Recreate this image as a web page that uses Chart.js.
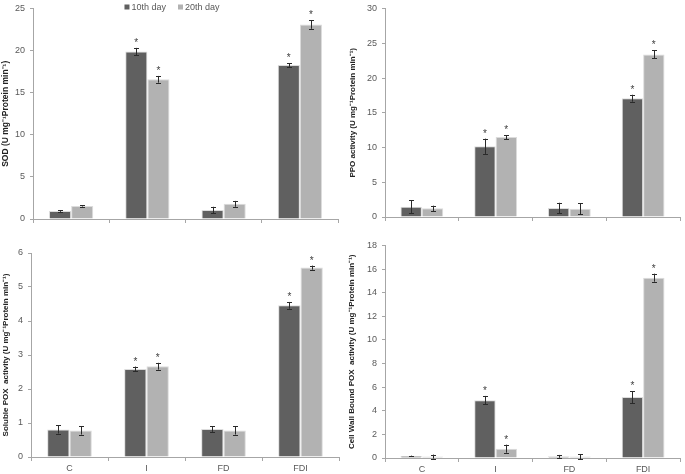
<!DOCTYPE html>
<html><head><meta charset="utf-8">
<script src="https://cdn.jsdelivr.net/npm/chart.js@4.4.0/dist/chart.umd.min.js"></script>
<style>
html,body{margin:0;padding:0;background:#fff;}
#wrap{position:relative;width:685px;height:474px;overflow:hidden;background:#fff;}
canvas{position:absolute;}
</style></head><body>
<div id="wrap">
<canvas id="c1" width="340" height="237" style="left:0;top:0"></canvas>
<canvas id="c2" width="345" height="237" style="left:340px;top:0"></canvas>
<canvas id="c3" width="340" height="237" style="left:0;top:237px"></canvas>
<canvas id="c4" width="345" height="237" style="left:340px;top:237px"></canvas>
</div>
<script>
// ---- data ----
const categories = ['C', 'I', 'FD', 'FDI'];
const seriesLabels = ['10th day', '20th day'];
const significant = [false, true, false, true];

const sod10 = [0.95, 19.9, 1.07, 18.3];
const sod20 = [1.55, 16.6, 1.8, 23.1];
const sod10Err = [0.1, 0.43, 0.38, 0.23];
const sod20Err = [0.07, 0.4, 0.35, 0.5];

const ppo10 = [1.48, 10.18, 1.29, 17.1];
const ppo20 = [1.25, 11.5, 1.2, 23.4];
const ppo10Err = [0.9, 1.1, 0.76, 0.5];
const ppo20Err = [0.38, 0.3, 0.8, 0.57];

const spox10 = [0.81, 2.59, 0.82, 4.46];
const spox20 = [0.78, 2.67, 0.78, 5.57];
const spox10Err = [0.12, 0.07, 0.08, 0.1];
const spox20Err = [0.12, 0.1, 0.12, 0.06];

const cpox10 = [0.17, 4.9, 0.14, 5.16];
const cpox20 = [0.12, 0.79, 0.12, 15.28];
const cpox10Err = [0.03, 0.36, 0.12, 0.5];
const cpox20Err = [0.17, 0.34, 0.22, 0.34];

const titles = [
  'SOD (U mg\u207B\u00B9Protein min\u207B\u00B9)',
  'PPO activity (U mg\u207B\u00B9Protein min\u207B\u00B9)',
  'Soluble POX  activity (U mg\u207B\u00B9Protein min\u207B\u00B9)',
  'Cell Wall Bound POX  activity (U mg\u207B\u00B9Protein min\u207B\u00B9)'
];
const yMaxes = [25, 30, 6, 18];
const ySteps = [5, 5, 1, 2];

// ---- style ----
const DARK = '#606060', LIGHT = '#b2b2b2';
const AXIS = '#a6a6a6', TXT = '#595959';
const FONT = "'Liberation Sans', Arial, sans-serif";

const errPlugin = {
  id: 'errbars',
  afterDatasetsDraw(chart, args, opts) {
    const ctx = chart.ctx;
    const ys = chart.scales.y;
    ctx.save();
    chart.data.datasets.forEach((ds, di) => {
      const meta = chart.getDatasetMeta(di);
      meta.data.forEach((bar, i) => {
        const v = ds.data[i], e = opts.errors[di][i];
        const yt = ys.getPixelForValue(v + e), yb = ys.getPixelForValue(v - e);
        const x = Math.round(bar.x) + 0.5;
        ctx.strokeStyle = '#2a2a2a';
        ctx.lineWidth = 1;
        ctx.beginPath();
        ctx.moveTo(x, yt); ctx.lineTo(x, yb);
        ctx.moveTo(x - 2.5, Math.round(yt) + 0.5); ctx.lineTo(x + 2.5, Math.round(yt) + 0.5);
        ctx.moveTo(x - 2.5, Math.round(yb) + 0.5); ctx.lineTo(x + 2.5, Math.round(yb) + 0.5);
        ctx.stroke();
        if (opts.sig[i]) {
          ctx.fillStyle = '#404040';
          ctx.font = '10px ' + FONT;
          ctx.textAlign = 'center';
          ctx.textBaseline = 'alphabetic';
          ctx.fillText('*', bar.x, yt - 2);
        }
      });
    });
    ctx.restore();
  }
};

const legendPlugin = {
  id: 'miniLegend',
  afterDraw(chart, args, opts) {
    if (!opts.show) return;
    const ctx = chart.ctx;
    ctx.save();
    ctx.font = '9px ' + FONT;
    ctx.textBaseline = 'middle';
    ctx.textAlign = 'left';
    const box = 5, gap = 2, itemGap = 12;
    const items = chart.data.datasets.map(d => ({ t: d.label, c: d.backgroundColor, w: box + gap + ctx.measureText(d.label).width }));
    const total = items.reduce((s, it) => s + it.w, 0) + itemGap * (items.length - 1);
    let x = opts.cx - total / 2;
    const y = opts.cy;
    items.forEach(it => {
      ctx.fillStyle = it.c;
      ctx.fillRect(x, y - box / 2, box, box);
      ctx.fillStyle = TXT;
      ctx.fillText(it.t, x + box + gap, y + 0.5);
      x += it.w + itemGap;
    });
    ctx.restore();
  }
};

const panels = [
  { id: 'c1', w: 340, h: 237, area: { l: 33, r: 338, t: 4, b: 219 }, d: [sod10, sod20], e: [sod10Err, sod20Err], showX: false, legend: true, tpad: 1, tsize: 8.5 },
  { id: 'c2', w: 345, h: 237, area: { l: 45, r: 340, t: 7, b: 217 }, d: [ppo10, ppo20], e: [ppo10Err, ppo20Err], showX: false, legend: false, tpad: 8, tsize: 8 },
  { id: 'c3', w: 340, h: 237, area: { l: 31, r: 339, t: 16, b: 220 }, d: [spox10, spox20], e: [spox10Err, spox20Err], showX: true, legend: false, tpad: 1, tsize: 8 },
  { id: 'c4', w: 345, h: 237, area: { l: 45, r: 340, t: 7, b: 221 }, d: [cpox10, cpox20], e: [cpox10Err, cpox20Err], showX: true, legend: false, tpad: 7, tsize: 8 }
];

panels.forEach((p, k) => {
  new Chart(document.getElementById(p.id), {
    type: 'bar',
    data: {
      labels: categories,
      datasets: [
        { label: seriesLabels[0], data: p.d[0], backgroundColor: DARK, borderColor: '#dcdcdc', borderWidth: { left: 1, right: 1, top: 1, bottom: 0 } },
        { label: seriesLabels[1], data: p.d[1], backgroundColor: LIGHT, borderColor: '#dcdcdc', borderWidth: { left: 1, right: 1, top: 1, bottom: 0 } }
      ]
    },
    options: {
      responsive: false,
      animation: false,
      events: [],
      layout: { padding: { left: 0, top: p.area.t, right: p.w - p.area.r, bottom: 0 } },
      datasets: { bar: { categoryPercentage: 0.58, barPercentage: 1.0 } },
      plugins: {
        legend: { display: false },
        tooltip: { enabled: false },
        errbars: { errors: p.e, sig: significant },
        miniLegend: { show: p.legend, cx: 172, cy: 7 }
      },
      scales: {
        x: {
          offset: true,
          grid: { display: true, offset: true, drawOnChartArea: false, drawTicks: true, tickLength: 4, color: AXIS },
          border: { display: true, color: AXIS },
          ticks: { display: p.showX, color: TXT, font: { family: FONT, size: 9 }, padding: 2, maxRotation: 0 },
          afterFit(s) { s.height = p.h - p.area.b; }
        },
        y: {
          min: 0, max: yMaxes[k],
          ticks: { stepSize: ySteps[k], color: TXT, font: { family: FONT, size: 9, lineHeight: 0.8 }, padding: 5 },
          grid: { display: true, drawOnChartArea: false, drawTicks: true, tickLength: 3, color: AXIS },
          border: { display: true, color: AXIS },
          title: { display: true, text: titles[k], color: '#222', font: { family: FONT, size: p.tsize, weight: 'bold' }, padding: { top: p.tpad, bottom: 0 } },
          afterFit(s) { s.width = p.area.l; }
        }
      }
    },
    plugins: [errPlugin, legendPlugin]
  });
});
</script>
</body></html>
